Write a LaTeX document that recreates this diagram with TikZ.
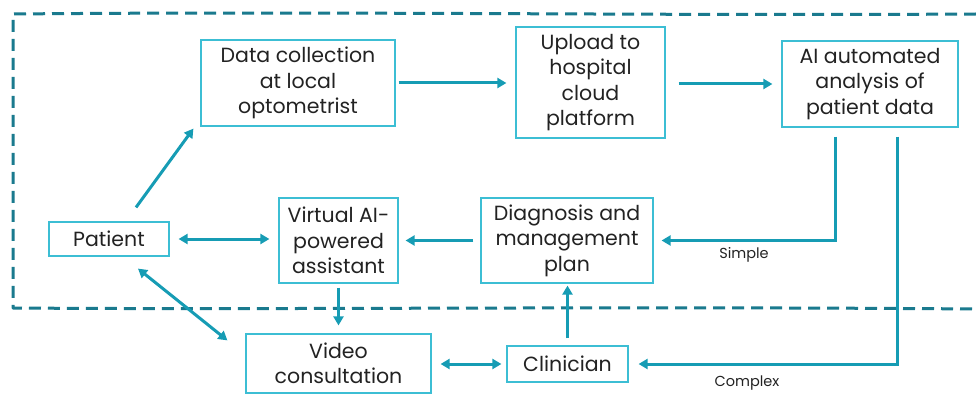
\documentclass[tikz,border=0pt]{standalone}
\usepackage{fontspec}
\setmainfont{Poppins}
\usetikzlibrary{arrows.meta}
\usetikzlibrary{calc}

\definecolor{boxcol}{RGB}{60,190,212}
\definecolor{arrcol}{RGB}{22,156,180}
\definecolor{bordcol}{RGB}{26,122,142}
\definecolor{txtcol}{RGB}{34,34,34}

\tikzset{
  box/.style={draw=boxcol, line width=1.2pt, align=center, inner sep=0pt,
    text=txtcol, font=\fontsize{20.5}{25.5}\selectfont},
  arr/.style={draw=arrcol, line width=3pt, -{Triangle[length=9pt,width=10pt]}},
  darr/.style={arr, {Triangle[length=9pt,width=10pt]}-{Triangle[length=9pt,width=10pt]}},
  lbl/.style={text=txtcol, font=\fontsize{14.5}{16}\selectfont}
}

\begin{document}
\begin{tikzpicture}[x=1pt,y=1pt]
  \useasboundingbox (0,0) rectangle (976,397);

  % Draw the dashed border (open to the right)
  \draw[bordcol, line width=3pt, dash pattern=on 12pt off 7pt, line join=round]
    (976,383) .. controls (650,381) and (350,386) .. (13,383)
    -- (13,89)
    .. controls (300,87) and (600,91) .. (976,88);

  % Draw the boxes
  \node[box, minimum width=194pt, minimum height=86pt] (data) at (298,314) {Data collection\\at local\\optometrist};
  \node[box, minimum width=149pt, minimum height=111pt] (upload) at (590.5,314.5) {Upload to\\hospital\\cloud\\platform};
  \node[box, minimum width=176pt, minimum height=86pt] (ai) at (870,313) {AI automated\\analysis of\\patient data};
  \node[box, minimum width=120pt, minimum height=34pt] (pat) at (109,158) {Patient};
  \node[box, minimum width=119pt, minimum height=85pt] (virt) at (338.5,156.5) {Virtual AI-\\powered\\assistant};
  \node[box, minimum width=172pt, minimum height=85pt] (diag) at (567,156.5) {Diagnosis and\\management\\plan};
  \node[box, minimum width=185pt, minimum height=59pt] (video) at (338.5,33.5) {Video\\consultation};
  \node[box, minimum width=121pt, minimum height=36pt] (clin) at (567.5,33) {Clinician};

  % Draw the arrows on the top row
  \draw[arr, shorten <=3pt, shorten >=9pt] (data.east) -- (data.east -| upload.west);
  \draw[arr, shorten <=13pt, shorten >=9pt] (ai.west -| upload.east) -- (ai.west);
  \draw[arr] ($(pat.north)+(27,14)$) -- ($(data.south west)+(-7,-2)$);

  % Draw the arrows on the middle row
  \draw[darr, shorten <=9pt, shorten >=9pt] (pat.east) -- (pat.east -| virt.west);
  \draw[arr, shorten <=7pt, shorten >=7pt] (diag.west) -- (diag.west -| virt.east);
  \draw[darr] ($(pat.south)+(29,-12)$) -- ($(video.north west)+(-18,-7)$);
  \draw[arr, shorten <=4pt, shorten >=8pt] (virt.south) -- (virt.south |- video.north);

  % Draw the arrows on the bottom row
  \draw[darr, shorten <=9pt, shorten >=5pt] (video.east |- clin.east) -- (clin.west);
  \draw[arr, shorten <=7pt, shorten >=2pt] (clin.north) -- (clin.north |- diag.south);

  % Draw the two branches out of the AI box
  \draw[arr, shorten >=8pt] ($(ai.south)+(-35,-9)$) |- (diag.east);
  \draw[arr, shorten >=10pt] ($(ai.south)+(27,-9)$) |- (clin.east);
  \node[lbl] (simple) at (744,142) {Simple};
  \node[lbl] (complex) at (747,14) {Complex};
\end{tikzpicture}
\end{document}
